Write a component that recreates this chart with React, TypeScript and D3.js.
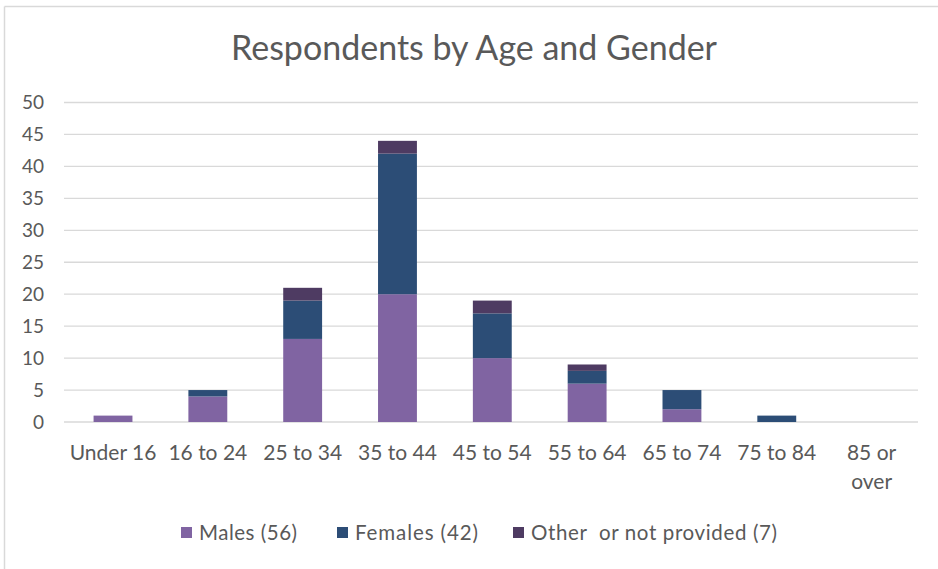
import React from "react";
import * as d3 from "d3";

const categories = ["Under 16", "16 to 24", "25 to 34", "35 to 44", "45 to 54", "55 to 64", "65 to 74", "75 to 84", "85 or over"];
const males = [1, 4, 13, 20, 10, 6, 2, 0, 0];
const females = [0, 1, 6, 22, 7, 2, 3, 1, 0];
const other = [0, 0, 2, 2, 2, 1, 0, 0, 0];
const seriesNames = ["Males (56)", "Females (42)", "Other  or not provided (7)"];
const seriesColors = ["#8064A2", "#2C4D76", "#4E3B62"];
const yTicks = [0, 5, 10, 15, 20, 25, 30, 35, 40, 45, 50];

const W = 938;
const H = 569;
const FONT = "Lato, 'Open Sans', sans-serif";
const TEXT = "#595959";

export default function App() {
  const x = d3.scaleBand<string>().domain(categories).range([65.6, 919]).paddingInner(0.59).paddingOuter(0.295);
  const y = d3.scaleLinear().domain([0, 50]).range([422, 102.5]);
  const rows = categories.map((c, i) => ({ cat: c, m: males[i], f: females[i], o: other[i] }));
  const stack = d3.stack<any>().keys(["m", "f", "o"]);
  const layers = stack(rows);
  const legendX = [181, 337, 513];
  const legendW = [98, 123, 246];

  return (
    <svg width={W} height={H} style={{ position: "absolute", left: 0, top: 0, background: "#fff" }} fontFamily={FONT}>
      <rect x={0} y={0} width={W} height={H} fill="#fff" />
      <line x1={4.5} x2={W} y1={6.5} y2={6.5} stroke="#D9D9D9" strokeWidth={1.5} />
      <line x1={4.5} x2={4.5} y1={6.5} y2={H} stroke="#D9D9D9" strokeWidth={1.5} />
      <text x={474} y={60} textAnchor="middle" fontSize={34} fill={TEXT}>Respondents by Age and Gender</text>
      {yTicks.map((t) => (
        <g key={t}>
          <line x1={64} x2={918} y1={y(t)} y2={y(t)} stroke="#D9D9D9" strokeWidth={1.3} />
          <text x={44} y={y(t)} dy="0.36em" textAnchor="end" fontSize={19} fill={TEXT}>{t}</text>
        </g>
      ))}
      {layers.map((layer, li) => (
        <g key={li} fill={seriesColors[li]}>
          {layer.map((d, i) => {
            const h = y(d[0]) - y(d[1]);
            if (h <= 0) return null;
            return <rect key={i} x={x(categories[i])} y={y(d[1])} width={x.bandwidth()} height={h} />;
          })}
        </g>
      ))}
      {categories.map((c) => {
        const cx = (x(c) as number) + x.bandwidth() / 2;
        const parts = c === "85 or over" ? ["85 or", "over"] : [c];
        return (
          <text key={c} x={cx} y={460} textAnchor="middle" fontSize={21} fill={TEXT}>
            {parts.map((p, k) => (
              <tspan key={k} x={cx} dy={k === 0 ? 0 : 29}>{p}</tspan>
            ))}
          </text>
        );
      })}
      {seriesNames.map((n, i) => (
        <g key={n}>
          <rect x={legendX[i]} y={527} width={11} height={11} fill={seriesColors[i]} />
          <text x={legendX[i] + 18} y={540} fontSize={20.5} fill={TEXT} style={{ whiteSpace: "pre" }} textLength={legendW[i]} lengthAdjust="spacing">{n}</text>
        </g>
      ))}
    </svg>
  );
}
